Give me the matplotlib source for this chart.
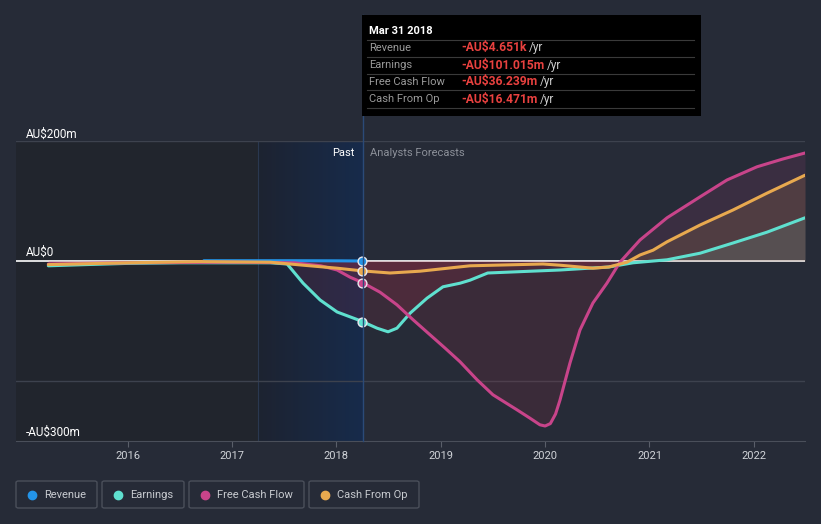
import matplotlib.pyplot as plt
import numpy as np
from matplotlib.patches import Rectangle, FancyBboxPatch
from matplotlib.colors import LinearSegmentedColormap

plt.rcParams['font.family'] = ['Roboto', 'DejaVu Sans']

# data (AU$ m)
rev_x = [2016.73, 2017.0, 2017.5, 2018.0, 2018.25]
rev_y = [0.5, 0.5, 0.5, 0.3, 0.0]

earn_x = [2015.24, 2015.6, 2016.0, 2016.5, 2017.0, 2017.365, 2017.528, 2017.681, 2017.844, 2018.007,
          2018.237, 2018.39, 2018.495, 2018.58, 2018.706, 2018.868, 2019.021, 2019.185, 2019.28,
          2019.45, 2020.142, 2020.61, 2020.842, 2021.168, 2021.485, 2021.80, 2022.125, 2022.49]
earn_y = [-8, -6, -4, -3, -3, -3, -5, -37, -65, -85,
          -100, -112, -118, -112, -87, -62, -43, -37, -32,
          -20, -15, -10, -3, 2, 13, 30, 48, 72]

fcf_x = [2015.24, 2016.0, 2017.0, 2017.6, 2017.85, 2018.007, 2018.131, 2018.25, 2018.418, 2018.58,
         2018.735, 2018.897, 2019.04, 2019.185, 2019.348, 2019.50, 2019.73, 2019.855, 2019.95,
         2020.0, 2020.05, 2020.10, 2020.142, 2020.238, 2020.334, 2020.458, 2020.592, 2020.717,
         2020.909, 2021.168, 2021.485, 2021.742, 2022.03, 2022.278, 2022.49]
fcf_y = [-5, -3, -2, -3, -8, -15, -27, -36, -52, -73,
         -98, -123, -145, -168, -198, -223, -248, -262, -273,
         -275, -271, -255, -232, -170, -115, -70, -37, -2,
         35, 72, 107, 135, 157, 170, 180]

cfo_x = [2015.24, 2016.0, 2016.7, 2017.365, 2017.681, 2018.007, 2018.25, 2018.514, 2018.80, 2019.28,
         2019.98, 2020.142, 2020.458, 2020.61, 2020.784, 2020.909, 2021.034, 2021.168, 2021.485,
         2021.80, 2022.125, 2022.49]
cfo_y = [-6, -3, -1, -2, -7, -12, -16.5, -20, -17, -8,
         -5, -7, -12, -10, -2, 10, 18, 32, 60,
         85, 113, 143]

names = ['Revenue', 'Earnings', 'Free Cash Flow', 'Cash From Op']
colors = ['#2394e8', '#5fe0cf', '#c8448a', '#e8a94f']
tip_vals = ['-AU$4.651k', '-AU$101.015m', '-AU$36.239m', '-AU$16.471m']
now = 2018.25

bg = '#262b37'
fig = plt.figure(figsize=(8.21, 5.24), dpi=100, facecolor=bg)
W, H = 821, 524
ax = fig.add_axes([16 / W, 1 - 441 / H, (805 - 16) / W, 300 / H])
ax.set_facecolor(bg)
ax.set_xlim(2014.93, 2022.49)
ax.set_ylim(-300, 200)

# shaded regions
ax.axvspan(2014.93, 2017.25, color='#21252d', zorder=0, lw=0)
cmap = LinearSegmentedColormap.from_list('past', ['#1d2331', '#172b4b'])
ax.imshow(np.linspace(0, 1, 100).reshape(1, -1), extent=[2017.25, now, -300, 200],
          aspect='auto', cmap=cmap, zorder=0.5)
ax.axvline(2017.25, color='#2a3850', lw=0.8, zorder=0.6)

for v in [200, -200]:
    ax.axhline(v, color='#3d424e', lw=1, zorder=1)
ax.axhline(0, color='white', lw=1.2, zorder=2)

series = [(rev_x, rev_y), (earn_x, earn_y), (fcf_x, fcf_y), (cfo_x, cfo_y)]
for (xs, ys), c in zip(series[1:], colors[1:]):
    xs, ys = np.array(xs), np.array(ys)
    ax.fill_between(xs, 0, ys, where=ys >= 0, interpolate=True, color=c, alpha=0.13, lw=0, zorder=2.5)
    ax.fill_between(xs, 0, ys, where=ys <= 0, interpolate=True, color='#c8304c', alpha=0.13, lw=0,
                    zorder=2.5)
for (xs, ys), c in zip(series, colors):
    ax.plot(xs, ys, color=c, lw=2.2, zorder=3, solid_capstyle='round', solid_joinstyle='round')
for (xs, ys), c in zip(series, colors):
    ax.scatter([now], [np.interp(now, xs, ys)], s=40, color=c, edgecolor='#e8e8ee', lw=1, zorder=5)

# y labels
ytr = ax.get_yaxis_transform()
ax.text(0.012, 200, 'AU$200m', transform=ytr, color='white', fontsize=8.5, va='bottom', ha='left')
ax.text(0.012, 4, 'AU$0', transform=ytr, color='white', fontsize=8.5, va='bottom', ha='left')
ax.text(0.012, -296, '-AU$300m', transform=ytr, color='white', fontsize=8.5, va='bottom', ha='left')

ax.text(now - 0.08, 180, 'Past', color='white', fontsize=8, ha='right', va='center')
ax.text(now + 0.07, 180, 'Analysts Forecasts', color='#8c9099', fontsize=8, ha='left', va='center')

ax.set_yticks([])
ax.set_xticks(range(2016, 2023))
ax.tick_params(axis='x', colors='#5a5f6a', labelcolor='#d0d3d8', labelsize=8, length=4, pad=3)
for s in ['top', 'left', 'right']:
    ax.spines[s].set_visible(False)
ax.spines['bottom'].set_color('#4a4f5a')

# vertical "now" line up to tooltip
fig.add_artist(plt.Line2D([362.5 / W, 362.5 / W], [1 - 441 / H, 1 - 15 / H],
                          color='#2b4a78', lw=1, zorder=1))

# tooltip
fig.add_artist(Rectangle((362 / W, 1 - 116 / H), (701 - 362) / W, 101 / H,
                         facecolor='black', edgecolor='none', zorder=10))
fig.text(369 / W, 1 - 31 / H, 'Mar 31 2018', color='white', fontsize=8, fontweight='bold',
         va='center', zorder=11)
renderer = fig.canvas.get_renderer()
for i, (n, v) in enumerate(zip(names, tip_vals)):
    yy = 48 + 17 * i
    fig.add_artist(plt.Line2D([367 / W, 694 / W], [1 - (yy - 8.5) / H] * 2,
                              color='#3a3a3a', lw=0.8, zorder=11))
    fig.text(369 / W, 1 - yy / H, n, color='#9a9a9a', fontsize=8, va='center', zorder=11)
    t = fig.text(461 / W, 1 - yy / H, v, color='#e8413f', fontsize=8.7, fontweight='bold',
                 va='center', zorder=11)
    x_end = t.get_window_extent(renderer=renderer).x1
    fig.text((x_end + 3) / W, 1 - yy / H, '/yr', color='#cfcfcf', fontsize=8.5,
             va='center', zorder=11)
fig.add_artist(plt.Line2D([367 / W, 694 / W], [1 - 107.5 / H] * 2, color='#3a3a3a', lw=0.8, zorder=11))

# legend
boxes = [(16, 97), (102, 184), (189, 304), (309, 419)]
for (x0, x1), n, c in zip(boxes, names, colors):
    fig.add_artist(FancyBboxPatch((x0 / W, 1 - 508 / H), (x1 - x0) / W, 27 / H,
                                  boxstyle='round,pad=0,rounding_size=0.003',
                                  facecolor='none', edgecolor='#4a4f5a', lw=1))
    fig.add_artist(plt.Line2D([(x0 + 16) / W], [1 - 494.5 / H], marker='o', markersize=6,
                              color=c, lw=0))
    fig.text((x0 + 28) / W, 1 - 494.5 / H, n, color='#c8cbd0', fontsize=8, va='center')

fig.savefig('out.png', dpi=100, facecolor=bg)
